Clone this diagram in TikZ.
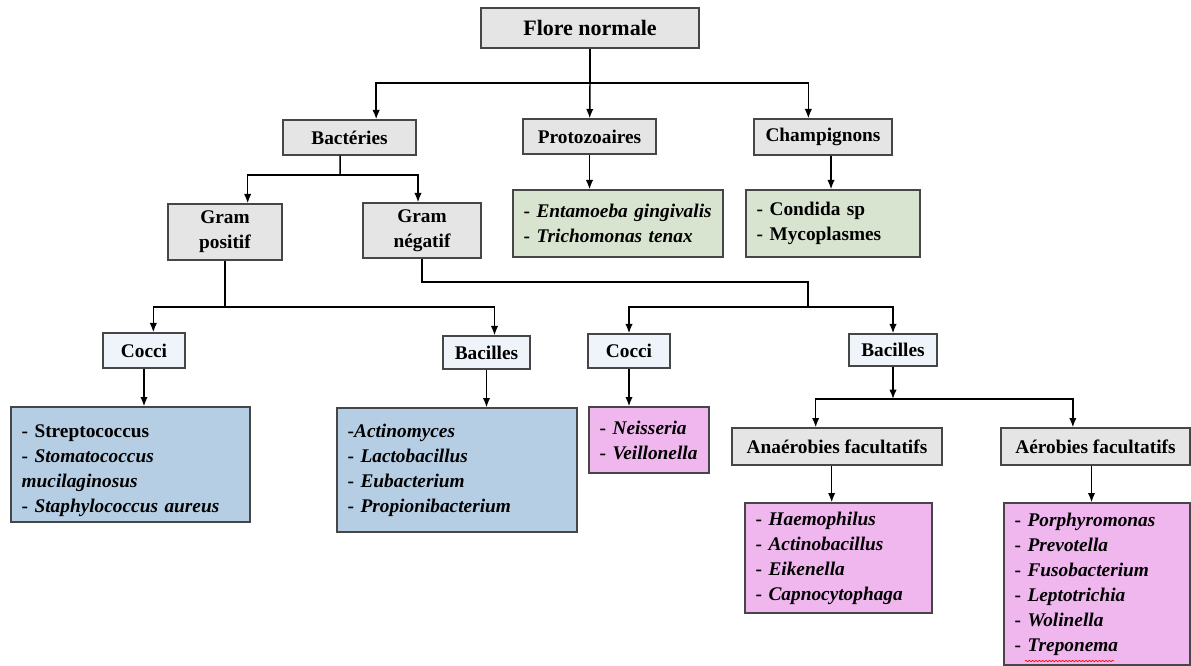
\documentclass[tikz,border=0pt]{standalone}
\usepackage{fontspec}
\setmainfont{Liberation Serif}
\usetikzlibrary{positioning,arrows.meta,decorations.pathmorphing}
\definecolor{greyclr}{RGB}{229,229,229}
\definecolor{paleclr}{RGB}{239,244,250}
\definecolor{greenclr}{RGB}{216,228,207}
\definecolor{blueclr}{RGB}{181,206,228}
\definecolor{pinkclr}{RGB}{240,182,238}
\definecolor{edgeclr}{RGB}{70,70,70}
\tikzset{ %
  ,>={Latex[length=7pt,width=5.5pt]}
  ,every node/.style={font=\fontsize{14.5}{18.75}\selectfont\bfseries}
  ,catbox/.style={draw=edgeclr, line width=1pt, fill=greyclr, inner sep=0, align=center}
  ,formbox/.style={draw=edgeclr, line width=1pt, fill=paleclr, inner sep=0}
  ,listbox/.style={draw=edgeclr, line width=1pt, inner xsep=8pt, inner ysep=0, align=left}
  ,link/.style={line width=1.1pt}
}

\begin{document}
\begin{tikzpicture}[x=0.75pt, y=-0.75pt]
  \useasboundingbox (0,0) rectangle (1191,666);
  % categories
  \node[catbox, minimum width=163.5pt, minimum height=30pt, font=\fontsize{16.5}{20}\selectfont\bfseries] (flore) at (590,28) {Flore normale};
  \node[catbox, minimum width=99.75pt, minimum height=26.25pt] (bact) at (349.5,137.5) {Bactéries};
  \node[catbox, minimum width=99.75pt, minimum height=26.25pt] (proto) at (589.5,136.5) {Protozoaires};
  \node[catbox, minimum width=103.5pt, minimum height=27pt] (champ) at (823,137) {Champignons};
  \node[catbox, minimum width=85.5pt, minimum height=42pt] (gpos) at (225,232) {Gram\\positif};
  \node[catbox, minimum width=88.5pt, minimum height=41.25pt] (gneg) at (422,230.5) {Gram\\négatif};
  \node[catbox, minimum width=157.5pt, minimum height=27.75pt] (anaer) at (837,446.5) {Anaérobies facultatifs};
  \node[catbox, minimum width=141.75pt, minimum height=27.75pt] (aer) at (1095.5,446.5) {Aérobies facultatifs};
  % forms
  \node[formbox, minimum width=61.5pt, minimum height=26.25pt] (cocpos) at (144,350.5) {Cocci};
  \node[formbox, minimum width=65.25pt, minimum height=24.75pt] (bacpos) at (486.5,352.5) {Bacilles};
  \node[formbox, minimum width=61.5pt, minimum height=25.5pt] (cocneg) at (629,351) {Cocci};
  \node[formbox, minimum width=66pt, minimum height=24pt] (bacneg) at (893,350) {Bacilles};
  % lists
  \node[listbox, fill=greenclr, text width=141.5pt, minimum height=50.25pt] (entam) at (618,223.5)
    {-~\textit{Entamoeba gingivalis}\\-~\textit{Trichomonas tenax}};
  \node[listbox, fill=greenclr, text width=114.5pt, minimum height=50.25pt] (condida) at (833,223.5)
    {-~Condida sp\\-~Mycoplasmes};
  \node[listbox, fill=blueclr, text width=163.25pt, minimum height=86.25pt] (listcp) at (130.5,464.5)
    {\rule{0pt}{19.5pt}-~Streptococcus\\-~\textit{Stomatococcus}\\\textit{mucilaginosus}\\-~\textit{Staphylococcus aureus}};
  \node[listbox, fill=blueclr, text width=164pt, minimum height=93pt] (listbp) at (457,470)
    {-\textit{Actinomyces}\\-~\textit{Lactobacillus}\\-~\textit{Eubacterium}\\-~\textit{Propionibacterium}};
  \node[listbox, fill=pinkclr, text width=74pt, minimum height=49.5pt] (listcn) at (649,440)
    {-~\textit{Neisseria}\\-~\textit{Veillonella}};
  \node[listbox, fill=pinkclr, text width=124.25pt, minimum height=82.5pt] (listana) at (838.5,558)
    {-~\textit{Haemophilus}\\-~\textit{Actinobacillus}\\-~\textit{Eikenella}\\-~\textit{Capnocytophaga}};
  \node[listbox, fill=pinkclr, text width=123.5pt, minimum height=121.5pt] (listaer) at (1097,584)
    {-~\textit{Porphyromonas}\\-~\textit{Prevotella}\\-~\textit{Fusobacterium}\\-~\textit{Leptotrichia}\\-~\textit{Wolinella}\\-~\textit{Treponema}};
  % connectors
  \coordinate (fj) at (590,83);
  \draw[link] (flore) -- (fj);
  \draw[link,->] (fj) -| ([xshift=20pt]bact.north);
  \draw[link,->] (fj) -- (proto);
  \draw[link,->] (fj) -| ([xshift=-11pt]champ.north);
  \draw[link,->] (proto) -- (proto |- entam.north);
  \draw[link,->] ([xshift=6pt]champ.south) -- ([xshift=6pt]champ.south |- condida.north);
  \coordinate (bj) at (340,175);
  \draw[link] ([xshift=-7pt]bact.south) -- (bj);
  \draw[link,->] (bj) -| ([xshift=17pt]gpos.north);
  \draw[link,->] (bj) -| ([xshift=-3pt]gneg.north);
  \coordinate (pj) at (225,307);
  \draw[link] (gpos) -- (pj);
  \draw[link,->] (pj) -| ([xshift=7pt]cocpos.north);
  \draw[link,->] (pj) -| ([xshift=6pt]bacpos.north);
  \coordinate (nj) at (808,282);
  \coordinate (nk) at (808,307);
  \draw[link] (gneg.south) |- (nj) -- (nk);
  \draw[link,->] (nk) -| (cocneg);
  \draw[link,->] (nk) -| (bacneg);
  \draw[link,->] (cocpos) -- (cocpos |- listcp.north);
  \draw[link,->] (bacpos) -- (bacpos |- listbp.north);
  \draw[link,->] (cocneg) -- (cocneg |- listcn.north);
  \coordinate (aj) at (893,399);
  \draw[link,->] (bacneg) -- (aj);
  \draw[link,->] (aj) -| ([xshift=-16pt]anaer.north);
  \draw[link,->] (aj) -| ([xshift=-17pt]aer.north);
  \draw[link,->] ([xshift=-4pt]anaer.south) -- ([xshift=-4pt]anaer.south |- listana.north);
  \draw[link,->] ([xshift=-3pt]aer.south) -- ([xshift=-3pt]aer.south |- listaer.north);
  % spelling mark
  \draw[red, line width=0.5pt, decorate, decoration={snake, amplitude=0.5pt, segment length=2.5pt}] (1025,661) -- (1114,661);
\end{tikzpicture}
\end{document}
